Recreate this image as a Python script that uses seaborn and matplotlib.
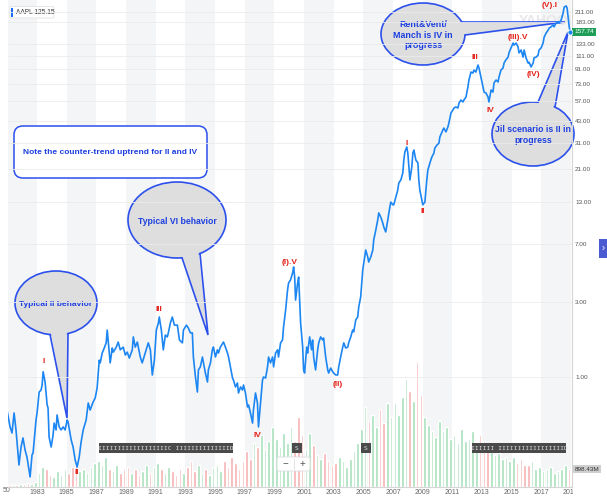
import matplotlib.pyplot as plt
import numpy as np
import pandas as pd
import seaborn as sns
from matplotlib.patches import Ellipse, FancyBboxPatch, Polygon, Rectangle
from matplotlib.ticker import FixedLocator, NullLocator
from matplotlib.transforms import Bbox, TransformedBbox

sns.set_theme(style="white")
plt.rcParams["font.family"] = ["Liberation Sans", "DejaVu Sans"]

# AAPL close (split adjusted)
years = [
    1980.97, 1981.18, 1981.31, 1981.45, 1981.58, 1981.78, 1981.92, 1982.05, 1982.19, 1982.32,
    1982.53, 1982.66, 1982.73, 1982.93, 1983.00, 1983.14, 1983.27, 1983.34, 1983.41, 1983.54,
    1983.68, 1983.74, 1983.81, 1983.95, 1984.08, 1984.15, 1984.28, 1984.35, 1984.49, 1984.62,
    1984.76, 1984.89, 1985.03, 1985.09, 1985.30, 1985.43, 1985.57, 1985.70, 1985.84, 1985.97,
    1986.11, 1986.31, 1986.45, 1986.58, 1986.78, 1986.92, 1987.05, 1987.19, 1987.26, 1987.39,
    1987.53, 1987.66, 1987.73, 1987.93, 1988.07, 1988.14, 1988.34, 1988.47, 1988.61, 1988.81,
    1988.95, 1989.08, 1989.22, 1989.42, 1989.49, 1989.62, 1989.76, 1989.96, 1990.09, 1990.36,
    1990.50, 1990.64, 1990.77, 1990.91, 1991.04, 1991.18, 1991.24, 1991.38, 1991.51, 1991.65,
    1991.78, 1991.85, 1991.99, 1992.12, 1992.26, 1992.46, 1992.60, 1992.80, 1992.87, 1993.07,
    1993.20, 1993.34, 1993.47, 1993.54, 1993.68, 1993.81, 1993.88, 1994.01, 1994.15, 1994.22,
    1994.35, 1994.49, 1994.55, 1994.69, 1994.82, 1994.89, 1995.03, 1995.16, 1995.23, 1995.36,
    1995.57, 1995.70, 1995.84, 1995.91, 1996.04, 1996.18, 1996.24, 1996.38, 1996.51, 1996.58,
    1996.72, 1996.85, 1996.92, 1997.05, 1997.19, 1997.26, 1997.39, 1997.53, 1997.59, 1997.73,
    1997.86, 1997.93, 1998.07, 1998.20, 1998.27, 1998.41, 1998.54, 1998.61, 1998.74, 1998.88,
    1998.95, 1999.08, 1999.22, 1999.28, 1999.42, 1999.55, 1999.62, 1999.76, 1999.89, 1999.96,
    2000.09, 2000.23, 2000.30, 2000.37, 2000.43, 2000.57, 2000.64, 2000.77, 2000.91, 2000.97,
    2001.04, 2001.18, 2001.24, 2001.38, 2001.51, 2001.58, 2001.65, 2001.78, 2001.92, 2001.99,
    2002.12, 2002.26, 2002.32, 2002.46, 2002.60, 2002.66, 2002.80, 2002.93, 2003.00, 2003.14,
    2003.27, 2003.34, 2003.47, 2003.61, 2003.68, 2003.81, 2003.95, 2004.01, 2004.15, 2004.28,
    2004.35, 2004.49, 2004.62, 2004.69, 2004.82, 2004.96, 2005.03, 2005.16, 2005.30, 2005.36,
    2005.50, 2005.64, 2005.70, 2005.84, 2005.97, 2006.04, 2006.18, 2006.31, 2006.38, 2006.51,
    2006.65, 2006.72, 2006.85, 2006.99, 2007.05, 2007.19, 2007.32, 2007.39, 2007.53, 2007.66,
    2007.73, 2007.80, 2007.93, 2008.00, 2008.07, 2008.14, 2008.27, 2008.34, 2008.41, 2008.54,
    2008.68, 2008.74, 2008.81, 2008.95, 2009.01, 2009.15, 2009.28, 2009.35, 2009.49, 2009.62,
    2009.76, 2009.82, 2009.96, 2010.10, 2010.16, 2010.36, 2010.43, 2010.57, 2010.70, 2010.77,
    2010.91, 2011.04, 2011.11, 2011.24, 2011.38, 2011.45, 2011.58, 2011.72, 2011.78, 2011.92,
    2012.05, 2012.12, 2012.26, 2012.39, 2012.46, 2012.59, 2012.73, 2012.80, 2012.93, 2013.07,
    2013.14, 2013.27, 2013.41, 2013.47, 2013.61, 2013.74, 2013.81, 2013.95, 2014.08, 2014.15,
    2014.28, 2014.42, 2014.49, 2014.62, 2014.76, 2014.82, 2014.96, 2015.10, 2015.16, 2015.30,
    2015.43, 2015.50, 2015.64, 2015.77, 2015.84, 2015.97, 2016.11, 2016.18, 2016.31, 2016.45,
    2016.51, 2016.65, 2016.78, 2016.85, 2016.99, 2017.12, 2017.19, 2017.32, 2017.46, 2017.53,
    2017.66, 2017.80, 2017.86, 2018.00, 2018.14, 2018.20, 2018.34, 2018.47, 2018.54, 2018.68,
    2018.74, 2018.81, 2018.88, 2018.95,
]
prices = [
    0.616, 0.481, 0.440, 0.590, 0.460, 0.275, 0.358, 0.409, 0.343, 0.309,
    0.231, 0.319, 0.328, 0.532, 0.590, 0.802, 0.826, 0.889, 1.08, 0.929,
    0.663, 0.635, 0.415, 0.358, 0.427, 0.509, 0.460, 0.573, 0.481, 0.460,
    0.481, 0.460, 0.532, 0.517, 0.397, 0.358, 0.296, 0.267, 0.309, 0.385,
    0.460, 0.532, 0.683, 0.616, 0.693, 0.735, 0.851, 1.28, 1.23, 1.42,
    1.53, 1.65, 1.99, 1.23, 1.53, 1.44, 1.55, 1.67, 1.49, 1.55,
    1.38, 1.44, 1.32, 1.49, 1.80, 1.55, 1.67, 1.34, 1.23, 1.49,
    1.65, 1.49, 1.03, 1.28, 1.99, 2.21, 2.41, 1.99, 1.49, 1.85,
    1.80, 1.91, 2.21, 2.41, 2.14, 2.14, 1.72, 1.65, 1.99, 2.14,
    2.05, 1.91, 1.91, 1.34, 1.00, 0.802, 1.11, 1.16, 1.34, 1.23,
    1.06, 0.929, 1.11, 1.23, 1.49, 1.55, 1.34, 1.49, 1.42, 1.55,
    1.67, 1.55, 1.42, 1.34, 1.16, 0.985, 0.957, 0.864, 0.916, 0.791,
    0.864, 0.826, 0.889, 0.791, 0.644, 0.663, 0.590, 0.509, 0.616, 0.791,
    0.683, 0.481, 0.683, 0.957, 1.00, 0.985, 1.16, 1.34, 1.23, 1.34,
    1.16, 1.42, 1.49, 1.34, 1.65, 1.72, 2.08, 2.67, 3.58, 3.97,
    4.15, 4.60, 5.02, 4.33, 3.09, 3.97, 4.33, 2.21, 1.55, 1.11,
    1.06, 1.55, 1.42, 1.80, 1.49, 1.72, 1.34, 1.11, 1.49, 1.65,
    1.80, 1.72, 1.77, 1.34, 1.11, 1.06, 1.14, 1.08, 1.06, 1.03,
    1.03, 1.16, 1.34, 1.55, 1.65, 1.53, 1.55, 1.65, 1.80, 1.99,
    1.94, 2.31, 2.41, 2.79, 3.23, 4.80, 5.32, 6.44, 5.81, 5.40,
    5.81, 6.44, 7.46, 8.63, 10.0, 11.1, 10.4, 9.57, 9.02, 8.39,
    10.0, 11.1, 13.0, 12.5, 12.5, 14.0, 15.5, 17.2, 18.0, 19.9,
    24.1, 27.1, 29.2, 26.7, 21.8, 18.0, 21.8, 26.7, 27.9, 24.1,
    23.1, 18.0, 15.5, 13.4, 12.5, 13.0, 18.0, 20.8, 23.1, 25.2,
    26.7, 28.7, 30.0, 30.9, 33.8, 37.4, 38.5, 36.4, 39.1, 41.5,
    48.1, 50.2, 51.7, 52.5, 51.7, 55.6, 58.1, 56.5, 58.1, 60.7,
    70.3, 77.9, 87.6, 86.3, 90.2, 87.6, 97.1, 92.9, 81.5, 70.3,
    65.3, 64.4, 60.7, 56.5, 67.3, 65.3, 74.6, 77.9, 75.7, 81.5,
    90.2, 92.9, 100.0, 105.0, 109.0, 116.0, 125.0, 134.0, 130.0, 134.0,
    127.0, 116.0, 121.0, 109.0, 121.0, 108.0, 100.0, 101.0, 94.4, 100.0,
    108.0, 109.0, 112.0, 121.0, 125.0, 134.0, 146.0, 155.0, 162.0, 167.0,
    170.0, 175.0, 170.0, 180.0, 183.0, 180.0, 188.0, 208.0, 227.0, 231.0,
    224.0, 196.0, 170.0, 157.74,
]

# quarterly volume in millions of shares, starting 1981 Q1
vol_start = 1981.0
volume_m = [
    100, 150, 100, 150,        # 1981
    150, 200, 150, 250,        # 1982
    700, 1000, 900, 600,       # 1983
    500, 800, 600, 900,        # 1984
    700, 1000, 1100, 800,      # 1985
    900, 700, 1000, 1200,      # 1986
    1300, 1100, 1500, 900,     # 1987
    800, 1100, 700, 900,       # 1988
    1000, 700, 900, 600,       # 1989
    800, 1100, 700, 1000,      # 1990
    1200, 900, 700, 1000,      # 1991
    800, 600, 900, 700,        # 1992
    1000, 1300, 800, 1100,     # 1993
    700, 900, 600, 1000,       # 1994
    1100, 800, 1300, 1000,     # 1995
    1500, 1200, 900, 1300,     # 1996
    1800, 1400, 2200, 2000,    # 1997
    2600, 1900, 2300, 3000,    # 1998
    2400, 2000, 2700, 2200,    # 1999
    3000, 2300, 3500, 2600,    # 2000
    1900, 2700, 2100, 1600,    # 2001
    1400, 1700, 1300, 1100,    # 2002
    1200, 1500, 1300, 1000,    # 2003
    1400, 1800, 2200, 2900,    # 2004
    4000, 3300, 3600, 3000,    # 2005
    3900, 3200, 4200, 3500,    # 2006
    4200, 3600, 4500, 5400,    # 2007
    4800, 4300, 6250, 4600,    # 2008
    3500, 3100, 2800, 2500,    # 2009
    3300, 2800, 3000, 2400,    # 2010
    2600, 2200, 2900, 2300,    # 2011
    2400, 2800, 2100, 2600,    # 2012
    2300, 2000, 1900, 1600,    # 2013
    1700, 1400, 1500, 1300,    # 2014
    1500, 1200, 1400, 1100,    # 2015
    1100, 1300, 900, 1000,     # 2016
    800, 900, 1000, 700,       # 2017
    800, 900, 1100, 898.43,    # 2018
]

price_ticks = [1, 3, 7, 13, 21, 31, 43, 57, 73, 91, 111, 133, 183, 211]
year_ticks = list(range(1983, 2020, 2))

wave_text = ["I", "II", "III", "IV", "(I).V", "(II)", "I", "II", "III", "IV", "(III).V", "(IV)", "(V).I"]
wave_year = [1983.41, 1985.70, 1991.18, 1997.86, 2000.03, 2003.27, 2007.93, 2009.01, 2012.52, 2013.54, 2015.43, 2016.45, 2017.53]
wave_price = [1.25, 0.245, 2.71, 0.427, 5.40, 0.902, 30.9, 11.4, 109, 50.2, 146, 83.9, 231]

BLUE_LINE = "#1c86f2"
CALL_EDGE = "#2b50ec"
CALL_TEXT = "#1d3fe0"
CALL_FILL = "#dedede"
RED = "#e5231b"

price_df = pd.DataFrame({"year": years, "price": prices})
q = np.arange(len(volume_m))
q_start = vol_start + 0.25 * q
vol_df = pd.DataFrame({
    "t": q_start + 0.125,
    "vol": volume_m,
    "dir": np.where(np.interp(q_start + 0.25, years, prices) >= np.interp(q_start, years, prices), "up", "down"),
})

fig = plt.figure(figsize=(6.07, 5.0), dpi=100, facecolor="white")
ax = fig.add_axes([8 / 607, 13 / 500, 564 / 607, 487 / 500])
vax = ax.twinx()
ax.set_zorder(vax.get_zorder() + 1)
ax.patch.set_visible(False)
vax.set_facecolor("white")

# alternating two-year bands
for start in range(1981, 2019, 4):
    vax.axvspan(start, start + 2, color="#f4f5f6", lw=0, zorder=0)

sns.barplot(data=vol_df, x="t", y="vol", hue="dir", palette={"up": "#a9e0bc", "down": "#f6b3b3"},
            native_scale=True, dodge=False, errorbar=None, legend=False, width=0.7,
            saturation=1, ax=vax, zorder=1)
vax.set_ylim(0, 487 * 50)
vax.set_yticks([])
vax.set_xlabel("")
vax.set_ylabel("")
vax.text(1.004, volume_m[-1], "898.43M", transform=vax.get_yaxis_transform(), ha="left", va="center",
         fontsize=4.6, color="#333333",
         bbox=dict(boxstyle="square,pad=0.3", fc="#cfcfcf", ec="none"))
vax.text(0.9, 0.958, "YAHOO!", transform=fig.transFigure, ha="center", va="center",
         fontsize=10, fontweight="bold", color="#e8e8e8", zorder=0.5)

sns.lineplot(data=price_df, x="year", y="price", ax=ax, color=BLUE_LINE, lw=1.2,
             estimator=None, sort=False, zorder=3)
ax.set_yscale("log")
ax.set_ylim(0.1992, 252)
ax.set_xlim(1981.04, 2019.07)
ax.yaxis.set_major_locator(FixedLocator(price_ticks))
ax.yaxis.set_minor_locator(NullLocator())
ax.set_yticklabels([f"{v:.2f}" for v in price_ticks])
ax.yaxis.tick_right()
ax.set_xticks(year_ticks)
ax.set_xticklabels([str(y) for y in year_ticks])
ax.tick_params(axis="y", length=0, pad=2.2, labelsize=4.6, labelcolor="#555555")
ax.tick_params(axis="x", length=0, pad=1.5, labelsize=5, labelcolor="#666666")
ax.set_xlabel("")
ax.set_ylabel("")
ax.grid(axis="y", color="#ebebeb", lw=0.6)
ax.grid(axis="x", visible=False)
for side in ["top", "left"]:
    ax.spines[side].set_visible(False)
    vax.spines[side].set_visible(False)
for side in ["right", "bottom"]:
    ax.spines[side].set_color("#d5d5d5")
    ax.spines[side].set_linewidth(0.8)
    vax.spines[side].set_visible(False)

last = ax.xaxis.get_major_ticks()[-1].label1
last.set_clip_box(TransformedBbox(Bbox([[0, 0], [573 / 607, 1]]), fig.transFigure))
last.set_clip_on(True)

ax.scatter([years[-1]], [prices[-1]], s=14, color=BLUE_LINE, edgecolor="white", lw=0.6, zorder=4)
ax.text(1.004, prices[-1], f"{prices[-1]:.2f}", transform=ax.get_yaxis_transform(), ha="left", va="center",
        fontsize=4.6, color="white",
        bbox=dict(boxstyle="square,pad=0.3", fc="#1f9e58", ec="none"))

for t, x, y in zip(wave_text, wave_year, wave_price):
    ax.text(x, y, t, ha="center", va="center", fontsize=6.0, fontweight="bold", color=RED, zorder=5)

# overlay in pixel coordinates for the drawn callouts
ov = fig.add_axes([0, 0, 1, 1])
ov.set_xlim(0, 607)
ov.set_ylim(500, 0)
ov.axis("off")
ov.patch.set_visible(False)


def bubble(cx, cy, w, h, b1, tip, b2, text, fs):
    ov.add_patch(Ellipse((cx, cy), w, h, fc=CALL_FILL, ec=CALL_EDGE, lw=1.2, zorder=5))
    inner = []
    for bx, by in (b1, b2):
        dx, dy = cx - bx, cy - by
        n = np.hypot(dx, dy)
        inner.append((bx + 3 * dx / n, by + 3 * dy / n))
    ov.add_patch(Polygon([inner[0], tip, inner[1]], closed=True, fc=CALL_FILL, ec="none", zorder=6))
    ov.plot([b1[0], tip[0], b2[0]], [b1[1], tip[1], b2[1]], color=CALL_EDGE, lw=1.2, zorder=7,
            solid_joinstyle="miter")
    ov.text(cx, cy + 1, text, ha="center", va="center", fontsize=fs, fontweight="bold",
            color=CALL_TEXT, linespacing=1.15, zorder=8)


bubble(56, 303, 82, 64, (50, 334.5), (67, 418), (68, 333.5), "Typical II behavior", 6.0)
bubble(177, 220, 98, 76, (182, 257.8), (208, 335), (200, 253.5), "Typical VI behavior", 6.2)
bubble(423, 34, 84, 62, (461.5, 22), (565, 22), (465, 35), "Rent&Vent/\nManch is IV in\nprogress", 6.4)
bubble(533, 134, 82, 64, (538, 102.2), (568, 32), (555, 107), "Jil scenario is II in\nprogress", 6.3)

ov.add_patch(FancyBboxPatch((14, 126), 193, 52, boxstyle="round,pad=0,rounding_size=9",
                            fc="white", ec=CALL_EDGE, lw=1.1, zorder=5))
ov.text(110, 153, "Note the counter-trend uptrend for II and IV", ha="center", va="center",
        fontsize=6.0, fontweight="bold", color=CALL_TEXT, zorder=6)

# ticker label
ov.add_patch(FancyBboxPatch((10, 6.5), 44, 11.5, boxstyle="round,pad=0,rounding_size=1.5",
                            fc="white", ec="#e2e2e2", lw=0.6, zorder=5))
ov.add_patch(Rectangle((11, 7.5), 1.8, 9.5, fc="#1a6cf0", ec="none", zorder=6))
ov.text(16, 12.5, "AAPL 125.15", ha="left", va="center", fontsize=4.8, color="#333333", zorder=6)

# event markers
for x0, x1, txt in [(99, 233, "IIIIIIIIIIIIIIIIIIC IIIIIIIIIIIIIID"), (292, 302, "S"),
                    (361, 371, "S"), (472, 566, "IIIIII IIIIIIIIIIIIIIIIID")]:
    ov.add_patch(Rectangle((x0, 443), x1 - x0, 10, fc="#4a4a4a", ec="none", zorder=5))
    ov.text((x0 + x1) / 2, 448.3, txt, ha="center", va="center", fontsize=4.6,
            family="DejaVu Sans Mono", color="#dcdcdc", zorder=6)

# zoom control
ov.add_patch(FancyBboxPatch((277, 457), 33, 14, boxstyle="round,pad=0,rounding_size=2",
                            fc="white", ec="#dddddd", lw=0.6, zorder=5))
ov.plot([293.5, 293.5], [459, 469], color="#dddddd", lw=0.6, zorder=6)
ov.text(285, 464, "\u2212", ha="center", va="center", fontsize=7, color="#555555", zorder=6)
ov.text(302, 464, "+", ha="center", va="center", fontsize=7, color="#555555", zorder=6)

# side button
ov.add_patch(Rectangle((599, 239), 8, 19, fc="#4b5bd2", ec="none", zorder=5))
ov.text(603, 248, "\u203a", ha="center", va="center", fontsize=7, color="white", zorder=6)

ov.text(7, 491, "50", ha="center", va="center", fontsize=5, color="#666666")

fig.savefig("out.png", dpi=100, facecolor="white")
